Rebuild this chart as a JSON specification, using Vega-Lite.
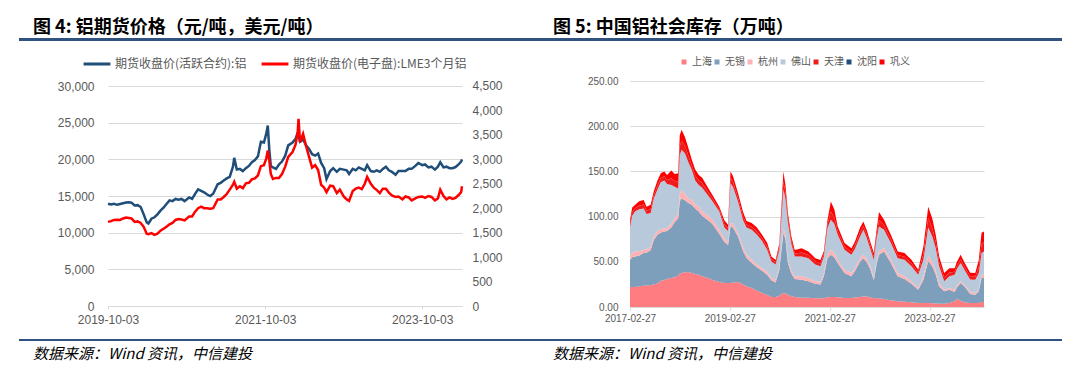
{
  "$schema": "https://vega.github.io/schema/vega-lite/v6.json",
  "background": "white",
  "padding": {"left": 19, "top": 19, "right": 5, "bottom": 5},
  "spacing": 8,
  "resolve": {"scale": {"color": "independent", "x": "independent", "y": "independent"}, "legend": {"color": "independent"}},
  "config": {
    "view": {"stroke": null},
    "axis": {"labelFont": "Liberation Sans", "labelColor": "#595959", "title": null, "gridColor": "#D9D9D9", "gridWidth": 1}
  },
  "datasets": {
    "price": [
      {"d": "2019-10-03", "a": 13950, "b": 1720}, {"d": "2019-10-17", "a": 13850, "b": 1735}, {"d": "2019-10-31", "a": 13950, "b": 1760},
      {"d": "2019-11-14", "a": 13800, "b": 1765}, {"d": "2019-11-28", "a": 13900, "b": 1760}, {"d": "2019-12-12", "a": 14000, "b": 1790},
      {"d": "2019-12-26", "a": 14100, "b": 1810}, {"d": "2020-01-09", "a": 14150, "b": 1800}, {"d": "2020-01-20", "a": 14100, "b": 1790},
      {"d": "2020-02-04", "a": 13700, "b": 1720}, {"d": "2020-02-18", "a": 13750, "b": 1730}, {"d": "2020-03-03", "a": 13500, "b": 1700},
      {"d": "2020-03-17", "a": 12500, "b": 1620}, {"d": "2020-03-31", "a": 11400, "b": 1480}, {"d": "2020-04-08", "a": 11250, "b": 1470},
      {"d": "2020-04-22", "a": 11900, "b": 1490}, {"d": "2020-05-06", "a": 12100, "b": 1455}, {"d": "2020-05-20", "a": 12500, "b": 1480},
      {"d": "2020-06-03", "a": 13000, "b": 1540}, {"d": "2020-06-17", "a": 13400, "b": 1580}, {"d": "2020-07-01", "a": 13900, "b": 1620},
      {"d": "2020-07-15", "a": 14400, "b": 1670}, {"d": "2020-07-29", "a": 14300, "b": 1700}, {"d": "2020-08-12", "a": 14600, "b": 1760},
      {"d": "2020-08-26", "a": 14500, "b": 1780}, {"d": "2020-09-09", "a": 14600, "b": 1770}, {"d": "2020-09-23", "a": 14300, "b": 1750},
      {"d": "2020-10-14", "a": 14800, "b": 1830}, {"d": "2020-10-28", "a": 14600, "b": 1830}, {"d": "2020-11-11", "a": 15300, "b": 1930},
      {"d": "2020-11-25", "a": 15900, "b": 2000}, {"d": "2020-12-09", "a": 15700, "b": 2030}, {"d": "2020-12-23", "a": 15500, "b": 2000},
      {"d": "2021-01-06", "a": 15200, "b": 2000}, {"d": "2021-01-20", "a": 15000, "b": 1990}, {"d": "2021-02-03", "a": 15300, "b": 2000},
      {"d": "2021-02-24", "a": 16600, "b": 2180}, {"d": "2021-03-10", "a": 16800, "b": 2180}, {"d": "2021-03-24", "a": 17100, "b": 2230},
      {"d": "2021-04-07", "a": 17400, "b": 2290}, {"d": "2021-04-21", "a": 17600, "b": 2380}, {"d": "2021-05-06", "a": 19000, "b": 2480},
      {"d": "2021-05-12", "a": 20200, "b": 2540}, {"d": "2021-05-24", "a": 18600, "b": 2400}, {"d": "2021-06-07", "a": 18700, "b": 2450},
      {"d": "2021-06-21", "a": 18400, "b": 2410}, {"d": "2021-07-05", "a": 18800, "b": 2510}, {"d": "2021-07-19", "a": 19100, "b": 2520},
      {"d": "2021-08-02", "a": 19600, "b": 2590}, {"d": "2021-08-16", "a": 19900, "b": 2610}, {"d": "2021-08-30", "a": 20400, "b": 2670},
      {"d": "2021-09-13", "a": 22400, "b": 2860}, {"d": "2021-09-27", "a": 22300, "b": 2880}, {"d": "2021-10-08", "a": 23500, "b": 3020},
      {"d": "2021-10-15", "a": 24600, "b": 3180}, {"d": "2021-10-22", "a": 21300, "b": 2980}, {"d": "2021-10-29", "a": 19100, "b": 2700},
      {"d": "2021-11-08", "a": 18900, "b": 2600}, {"d": "2021-11-22", "a": 18700, "b": 2620}, {"d": "2021-12-06", "a": 19300, "b": 2620},
      {"d": "2021-12-20", "a": 19700, "b": 2700}, {"d": "2022-01-04", "a": 20500, "b": 2850}, {"d": "2022-01-18", "a": 21900, "b": 3050},
      {"d": "2022-02-07", "a": 22300, "b": 3150}, {"d": "2022-02-21", "a": 22800, "b": 3300}, {"d": "2022-03-03", "a": 23600, "b": 3560},
      {"d": "2022-03-07", "a": 23200, "b": 3830}, {"d": "2022-03-14", "a": 22400, "b": 3350}, {"d": "2022-03-28", "a": 22700, "b": 3520},
      {"d": "2022-04-11", "a": 21900, "b": 3270}, {"d": "2022-04-25", "a": 21400, "b": 3050}, {"d": "2022-05-09", "a": 20700, "b": 2830},
      {"d": "2022-05-23", "a": 20500, "b": 2880}, {"d": "2022-06-06", "a": 20800, "b": 2780}, {"d": "2022-06-20", "a": 19500, "b": 2480},
      {"d": "2022-07-04", "a": 18800, "b": 2420}, {"d": "2022-07-15", "a": 17300, "b": 2330}, {"d": "2022-08-01", "a": 18400, "b": 2460},
      {"d": "2022-08-15", "a": 18800, "b": 2450}, {"d": "2022-09-01", "a": 18300, "b": 2310}, {"d": "2022-09-15", "a": 18700, "b": 2380},
      {"d": "2022-10-03", "a": 18600, "b": 2240}, {"d": "2022-10-17", "a": 18500, "b": 2180}, {"d": "2022-10-28", "a": 18000, "b": 2150},
      {"d": "2022-11-14", "a": 18700, "b": 2350}, {"d": "2022-11-28", "a": 18500, "b": 2400}, {"d": "2022-12-12", "a": 18900, "b": 2420},
      {"d": "2022-12-26", "a": 18700, "b": 2390}, {"d": "2023-01-09", "a": 18500, "b": 2500}, {"d": "2023-01-20", "a": 19200, "b": 2640},
      {"d": "2023-02-06", "a": 18400, "b": 2500}, {"d": "2023-02-20", "a": 18300, "b": 2420}, {"d": "2023-03-06", "a": 18500, "b": 2370},
      {"d": "2023-03-20", "a": 18300, "b": 2310}, {"d": "2023-04-03", "a": 18700, "b": 2400}, {"d": "2023-04-17", "a": 19000, "b": 2400},
      {"d": "2023-05-01", "a": 18500, "b": 2320}, {"d": "2023-05-15", "a": 18300, "b": 2260}, {"d": "2023-06-01", "a": 17900, "b": 2230},
      {"d": "2023-06-15", "a": 18400, "b": 2240}, {"d": "2023-07-03", "a": 18400, "b": 2180}, {"d": "2023-07-17", "a": 18400, "b": 2240},
      {"d": "2023-08-01", "a": 18700, "b": 2220}, {"d": "2023-08-15", "a": 18700, "b": 2160}, {"d": "2023-09-01", "a": 19100, "b": 2200},
      {"d": "2023-09-15", "a": 19500, "b": 2230}, {"d": "2023-10-03", "a": 19200, "b": 2240}, {"d": "2023-10-16", "a": 19300, "b": 2210},
      {"d": "2023-11-01", "a": 18900, "b": 2250}, {"d": "2023-11-15", "a": 19000, "b": 2230}, {"d": "2023-12-01", "a": 18600, "b": 2160},
      {"d": "2023-12-15", "a": 19000, "b": 2200}, {"d": "2023-12-26", "a": 19600, "b": 2380}, {"d": "2024-01-10", "a": 18900, "b": 2250},
      {"d": "2024-01-24", "a": 19000, "b": 2180}, {"d": "2024-02-07", "a": 18800, "b": 2220}, {"d": "2024-02-21", "a": 18800, "b": 2190},
      {"d": "2024-03-06", "a": 18950, "b": 2210}, {"d": "2024-03-20", "a": 19300, "b": 2270}, {"d": "2024-04-01", "a": 19700, "b": 2330},
      {"d": "2024-04-05", "a": 20000, "b": 2450}
    ],
    "stock": [
      {"d": "2017-02-27", "上海": 22, "无锡": 30, "杭州": 4, "佛山": 32, "天津": 3.6, "沈阳": 0.1, "巩义": 4.3},
      {"d": "2017-03-15", "上海": 22, "无锡": 33, "杭州": 5, "佛山": 41, "天津": 4.1, "沈阳": 0.1, "巩义": 4.8},
      {"d": "2017-04-06", "上海": 22, "无锡": 34, "杭州": 5.5, "佛山": 44.5, "天津": 3.2, "沈阳": 0.1, "巩义": 3.7},
      {"d": "2017-05-05", "上海": 23, "无锡": 34, "杭州": 5, "佛山": 46, "天津": 4.1, "沈阳": 0.1, "巩义": 4.8},
      {"d": "2017-06-07", "上海": 23.6, "无锡": 36, "杭州": 3.4, "佛山": 46, "天津": 4.3, "沈阳": 0.1, "巩义": 5.1},
      {"d": "2017-06-28", "上海": 24, "无锡": 36, "杭州": 4, "佛山": 39, "天津": 3.6, "沈阳": 0.1, "巩义": 4.3},
      {"d": "2017-07-28", "上海": 24, "无锡": 39, "杭州": 4, "佛山": 37, "天津": 4.1, "沈阳": 0.1, "巩义": 4.8},
      {"d": "2017-08-20", "上海": 25, "无锡": 49, "杭州": 4, "佛山": 42, "天津": 3.6, "沈阳": 0.1, "巩义": 4.3},
      {"d": "2017-09-16", "上海": 26, "无锡": 54, "杭州": 4, "佛山": 46, "天津": 4.5, "沈阳": 0.1, "巩义": 5.4},
      {"d": "2017-10-10", "上海": 29, "无锡": 53.5, "杭州": 3.5, "佛山": 52, "天津": 4.5, "沈阳": 0.1, "巩义": 5.4},
      {"d": "2017-11-05", "上海": 30, "无锡": 53.6, "杭州": 3.4, "佛山": 53, "天津": 4.5, "沈阳": 0.1, "巩义": 5.4},
      {"d": "2017-11-25", "上海": 31, "无锡": 53, "杭州": 3, "佛山": 49, "天津": 4.5, "沈阳": 0.1, "巩义": 5.4},
      {"d": "2017-12-26", "上海": 32, "无锡": 56, "杭州": 4, "佛山": 43, "天津": 7.2, "沈阳": 0.1, "巩义": 8.7},
      {"d": "2018-01-20", "上海": 33, "无锡": 61, "杭州": 4, "佛山": 35, "天津": 6.3, "沈阳": 0.1, "巩义": 7.6},
      {"d": "2018-02-14", "上海": 34.6, "无锡": 63.4, "杭州": 6, "佛山": 27, "天津": 7.7, "沈阳": 0.1, "巩义": 9.2},
      {"d": "2018-02-26", "上海": 37, "无锡": 80, "杭州": 8, "佛山": 43, "天津": 9.9, "沈阳": 0.1, "巩义": 12},
      {"d": "2018-03-11", "上海": 37.5, "无锡": 82.5, "杭州": 9.6, "佛山": 44.4, "天津": 9.9, "沈阳": 0.1, "巩义": 12},
      {"d": "2018-04-05", "上海": 38.5, "无锡": 79.5, "杭州": 7, "佛山": 45, "天津": 8.1, "沈阳": 0.1, "巩义": 9.8},
      {"d": "2018-04-30", "上海": 38.7, "无锡": 76.3, "杭州": 5, "佛山": 40, "天津": 7.2, "沈阳": 0.1, "巩义": 8.7},
      {"d": "2018-05-25", "上海": 37.5, "无锡": 75.5, "杭州": 5.6, "佛山": 33.1, "天津": 5.1, "沈阳": 0.1, "巩义": 6.1},
      {"d": "2018-06-19", "上海": 36.5, "无锡": 72.5, "杭州": 5, "佛山": 26, "天津": 5.4, "沈阳": 0.1, "巩义": 6.5},
      {"d": "2018-07-15", "上海": 35.7, "无锡": 70, "杭州": 5.3, "佛山": 24, "天津": 5, "沈阳": 0.1, "巩义": 5.9},
      {"d": "2018-08-09", "上海": 34, "无锡": 67, "杭州": 5, "佛山": 26, "天津": 5, "沈阳": 0.1, "巩义": 5.9},
      {"d": "2018-09-28", "上海": 31.5, "无锡": 63.5, "杭州": 5, "佛山": 22, "天津": 3.6, "沈阳": 0.1, "巩义": 4.3},
      {"d": "2018-10-23", "上海": 30, "无锡": 61.7, "杭州": 4.8, "佛山": 20.5, "天津": 3.2, "沈阳": 0.1, "巩义": 3.7},
      {"d": "2018-12-12", "上海": 27.6, "无锡": 53.4, "杭州": 4.4, "佛山": 20.3, "天津": 2.4, "沈阳": 0.1, "巩义": 2.8},
      {"d": "2019-01-18", "上海": 26.5, "无锡": 45.5, "杭州": 4, "佛山": 12, "天津": 3.6, "沈阳": 0.1, "巩义": 4.3},
      {"d": "2019-02-14", "上海": 26.5, "无锡": 42, "杭州": 3.5, "佛山": 12, "天津": 3.2, "沈阳": 0.1, "巩义": 3.7},
      {"d": "2019-03-04", "上海": 26.5, "无锡": 62.5, "杭州": 4, "佛山": 44, "天津": 5.9, "沈阳": 0.1, "巩义": 7},
      {"d": "2019-03-22", "上海": 27, "无锡": 61, "杭州": 4, "佛山": 41, "天津": 5.4, "沈阳": 0.1, "巩义": 6.5},
      {"d": "2019-04-28", "上海": 27.6, "无锡": 50.4, "杭州": 3.7, "佛山": 35, "天津": 4.2, "沈阳": 0.1, "巩义": 5},
      {"d": "2019-06-04", "上海": 25, "无锡": 37, "杭州": 4, "佛山": 30, "天津": 4.1, "沈阳": 0.1, "巩义": 4.8},
      {"d": "2019-06-29", "上海": 23, "无锡": 31.5, "杭州": 3.5, "佛山": 30, "天津": 3.2, "沈阳": 0.1, "巩义": 3.7},
      {"d": "2019-08-06", "上海": 21, "无锡": 27.6, "杭州": 3.7, "佛山": 33.1, "天津": 3.4, "沈阳": 0.1, "巩义": 4.1},
      {"d": "2019-09-13", "上海": 18, "无锡": 26, "杭州": 3, "佛山": 33, "天津": 3.6, "沈阳": 0.1, "巩义": 4.3},
      {"d": "2019-10-21", "上海": 15.5, "无锡": 24.5, "杭州": 3, "佛山": 30, "天津": 3.2, "沈阳": 0.1, "巩义": 3.7},
      {"d": "2019-11-27", "上海": 13.3, "无锡": 22.4, "杭州": 3.7, "佛山": 23.9, "天津": 3.5, "沈阳": 0.1, "巩义": 4.1},
      {"d": "2019-12-28", "上海": 11, "无锡": 18.5, "杭州": 2.5, "佛山": 18.4, "天津": 2.5, "沈阳": 0.1, "巩义": 3},
      {"d": "2020-01-28", "上海": 11, "无锡": 16.2, "杭州": 2.8, "佛山": 17, "天津": 2.3, "沈阳": 0.1, "巩义": 2.6},
      {"d": "2020-02-24", "上海": 12.5, "无锡": 28.5, "杭州": 3, "佛山": 19, "天津": 3.2, "沈阳": 0.1, "巩义": 3.7},
      {"d": "2020-03-25", "上海": 15.5, "无锡": 66.5, "杭州": 5, "佛山": 43, "天津": 9, "沈阳": 0.1, "巩义": 10.9},
      {"d": "2020-04-09", "上海": 15, "无锡": 60, "杭州": 5, "佛山": 40, "天津": 6.8, "沈阳": 0.1, "巩义": 8.1},
      {"d": "2020-04-27", "上海": 13.6, "无锡": 35, "杭州": 3.7, "佛山": 40.7, "天津": 5, "沈阳": 0.1, "巩义": 5.9},
      {"d": "2020-05-22", "上海": 12, "无锡": 25, "杭州": 3, "佛山": 30, "天津": 3.6, "沈阳": 0.1, "巩义": 4.3},
      {"d": "2020-06-16", "上海": 11, "无锡": 20, "杭州": 3, "佛山": 22, "天津": 3.2, "沈阳": 0.1, "巩义": 3.7},
      {"d": "2020-08-05", "上海": 10.3, "无锡": 19.9, "杭州": 3.8, "佛山": 22, "天津": 4.1, "沈阳": 0.1, "巩义": 4.8},
      {"d": "2020-09-24", "上海": 10.3, "无锡": 18.1, "杭州": 3.6, "佛山": 22, "天津": 3.4, "沈阳": 0.1, "巩义": 4},
      {"d": "2020-11-13", "上海": 9.6, "无锡": 16.2, "杭州": 2.6, "佛山": 18.6, "天津": 3.2, "沈阳": 0.1, "巩义": 3.7},
      {"d": "2020-12-21", "上海": 9.6, "无锡": 15.4, "杭州": 3, "佛山": 17, "天津": 3.2, "沈阳": 0.1, "巩义": 3.7},
      {"d": "2021-01-15", "上海": 9.8, "无锡": 24.1, "杭州": 3.7, "佛山": 18.4, "天津": 2.7, "沈阳": 0.1, "巩义": 3.2},
      {"d": "2021-02-10", "上海": 10.7, "无锡": 43.3, "杭州": 3.8, "佛山": 29.5, "天津": 3.9, "沈阳": 0.1, "巩义": 4.7},
      {"d": "2021-03-07", "上海": 11, "无锡": 46.8, "杭州": 5.5, "佛山": 33.2, "天津": 9.1, "沈阳": 0.1, "巩义": 11},
      {"d": "2021-04-01", "上海": 11, "无锡": 44, "杭州": 5, "佛山": 32, "天津": 7.2, "沈阳": 0.1, "巩义": 8.7},
      {"d": "2021-04-26", "上海": 10.7, "无锡": 37.9, "杭州": 3.7, "佛山": 27.7, "天津": 4.1, "沈阳": 0.1, "巩义": 4.8},
      {"d": "2021-06-15", "上海": 10, "无锡": 27.6, "杭州": 3.6, "佛山": 22.1, "天津": 3.3, "沈阳": 0.1, "巩义": 4},
      {"d": "2021-08-04", "上海": 10, "无锡": 23.9, "杭州": 3.7, "佛山": 20.2, "天津": 3.2, "沈阳": 0.1, "巩义": 3.9},
      {"d": "2021-08-29", "上海": 10.5, "无锡": 29, "杭州": 3.5, "佛山": 21, "天津": 3.6, "沈阳": 0.1, "巩义": 4.3},
      {"d": "2021-10-07", "上海": 11, "无锡": 39.4, "杭州": 3.6, "佛山": 24, "天津": 4.5, "沈阳": 0.1, "巩义": 5.4},
      {"d": "2021-10-31", "上海": 11.8, "无锡": 42.2, "杭州": 3.8, "佛山": 27.6, "天津": 4.1, "沈阳": 0.1, "巩义": 5},
      {"d": "2021-11-25", "上海": 11.5, "无锡": 38, "杭州": 3.5, "佛山": 23, "天津": 4.1, "沈阳": 0.1, "巩义": 4.8},
      {"d": "2021-12-21", "上海": 10.5, "无锡": 31, "杭州": 3.5, "佛山": 19, "天津": 3.6, "沈阳": 0.1, "巩义": 4.3},
      {"d": "2022-01-15", "上海": 10, "无锡": 19.5, "杭州": 2.5, "佛山": 20.3, "天津": 3.5, "沈阳": 0.1, "巩义": 4.1},
      {"d": "2022-02-04", "上海": 9.8, "无锡": 37.2, "杭州": 3, "佛山": 25, "天津": 4.5, "沈阳": 0.1, "巩义": 5.4},
      {"d": "2022-02-22", "上海": 9.6, "无锡": 48.2, "杭州": 3.7, "佛山": 27.5, "天津": 7.2, "沈阳": 0.1, "巩义": 8.7},
      {"d": "2022-03-31", "上海": 8.8, "无锡": 52.7, "杭州": 3.7, "佛山": 20.2, "天津": 5, "沈阳": 0.1, "巩义": 6},
      {"d": "2022-04-25", "上海": 8, "无锡": 47, "杭州": 3, "佛山": 20, "天津": 4.5, "沈阳": 0.1, "巩义": 5.4},
      {"d": "2022-05-20", "上海": 7.4, "无锡": 41.2, "杭州": 3.7, "佛山": 18.4, "天津": 4.2, "沈阳": 0.1, "巩义": 5},
      {"d": "2022-07-09", "上海": 6.3, "无锡": 27.6, "杭州": 3.7, "佛山": 16.4, "天津": 3.4, "沈阳": 0.1, "巩义": 4},
      {"d": "2022-08-28", "上海": 5.9, "无锡": 25.1, "杭州": 2.9, "佛山": 18.4, "天津": 3.3, "沈阳": 0.1, "巩义": 3.9},
      {"d": "2022-10-17", "上海": 5.2, "无锡": 20.6, "杭州": 2.6, "佛山": 16.6, "天津": 3.3, "沈阳": 0.1, "巩义": 3.9},
      {"d": "2022-12-06", "上海": 4.4, "无锡": 14.7, "杭州": 1.9, "佛山": 14.7, "天津": 2.5, "沈阳": 0.1, "巩义": 2.9},
      {"d": "2023-01-13", "上海": 4.4, "无锡": 25.8, "杭州": 3.7, "佛山": 18.4, "天津": 6.6, "沈阳": 0.1, "巩义": 8},
      {"d": "2023-02-17", "上海": 4.4, "无锡": 46.6, "杭州": 6, "佛山": 31, "天津": 10.4, "沈阳": 0.1, "巩义": 12.5},
      {"d": "2023-03-19", "上海": 4.2, "无锡": 40.8, "杭州": 5, "佛山": 28, "天津": 9, "沈阳": 0.1, "巩义": 10.9},
      {"d": "2023-04-13", "上海": 4, "无锡": 32, "杭州": 4, "佛山": 25, "天津": 6.8, "沈阳": 0.1, "巩义": 8.1},
      {"d": "2023-05-08", "上海": 3.7, "无锡": 19.1, "杭州": 3.7, "佛山": 18.5, "天津": 5, "沈阳": 0.1, "巩义": 5.9},
      {"d": "2023-06-14", "上海": 3.7, "无锡": 13.6, "杭州": 1.8, "佛山": 9.3, "天津": 4.1, "沈阳": 0.1, "巩义": 5},
      {"d": "2023-07-22", "上海": 4.4, "无锡": 14.7, "杭州": 1.9, "佛山": 12.9, "天津": 4.1, "沈阳": 0.1, "巩义": 4.9},
      {"d": "2023-08-29", "上海": 6.3, "无锡": 10.3, "杭州": 2.5, "佛山": 16.6, "天津": 3.3, "沈阳": 0.1, "巩义": 3.9},
      {"d": "2023-09-15", "上海": 9, "无锡": 12.5, "杭州": 2.5, "佛山": 18, "天津": 3.6, "沈阳": 0.1, "巩义": 4.3},
      {"d": "2023-10-12", "上海": 7, "无锡": 19.5, "杭州": 1.9, "佛山": 20.2, "天津": 4.1, "沈阳": 0.1, "巩义": 5},
      {"d": "2023-11-13", "上海": 5, "无锡": 17, "杭州": 2, "佛山": 16, "天津": 3.6, "沈阳": 0.1, "巩义": 4.3},
      {"d": "2023-12-21", "上海": 4.4, "无锡": 10.1, "杭州": 2, "佛山": 14, "天津": 3.4, "沈阳": 0.1, "巩义": 4},
      {"d": "2024-01-27", "上海": 4.4, "无锡": 9.2, "杭州": 1.9, "佛山": 14.7, "天津": 3.3, "沈阳": 0.1, "巩义": 4},
      {"d": "2024-02-22", "上海": 4.4, "无锡": 12.9, "杭州": 1.8, "佛山": 18.5, "天津": 6.5, "沈阳": 0.1, "巩义": 7.8},
      {"d": "2024-03-13", "上海": 5.5, "无锡": 26.5, "杭州": 3.7, "佛山": 23.9, "天津": 10.1, "沈阳": 0.1, "巩义": 12.2},
      {"d": "2024-03-31", "上海": 5.5, "无锡": 26.5, "杭州": 3.7, "佛山": 25.8, "天津": 9.9, "沈阳": 0.1, "巩义": 12.1}
    ],
    "ord": [
      {"城市": "上海", "序": 1}, {"城市": "无锡", "序": 2}, {"城市": "杭州", "序": 3}, {"城市": "佛山", "序": 4},
      {"城市": "天津", "序": 5}, {"城市": "沈阳", "序": 6}, {"城市": "巩义", "序": 7}
    ]
  },
  "vconcat": [
    {
      "bounds": "flush",
      "spacing": 0,
      "hconcat": [
        {
          "width": 521, "height": 3,
          "view": {"fill": "#2F5280", "stroke": null},
          "data": {"values": []},
          "mark": "point",
          "encoding": {},
          "title": {"text": "图 4: 铝期货价格（元/吨，美元/吨）", "anchor": "start", "frame": "group", "dx": 14, "offset": 1, "font": "Noto Sans CJK SC", "fontSize": 18, "fontWeight": "bold", "color": "#000000"}
        },
        {
          "width": 522, "height": 3,
          "view": {"fill": "#2F5280", "stroke": null},
          "data": {"values": []},
          "mark": "point",
          "encoding": {},
          "title": {"text": "图 5: 中国铝社会库存（万吨）", "anchor": "start", "frame": "group", "dx": 13, "offset": 1, "font": "Noto Sans CJK SC", "fontSize": 18, "fontWeight": "bold", "color": "#000000"}
        }
      ]
    },
    {
      "bounds": "flush",
      "spacing": 0,
      "resolve": {"scale": {"color": "independent", "x": "independent", "y": "independent"}, "legend": {"color": "independent"}},
      "hconcat": [
        {"width": 89, "height": 250, "data": {"values": []}, "mark": "point", "encoding": {}},
        {
          "width": 354, "height": 225,
          "data": {"name": "price"},
          "encoding": {
            "x": {
              "field": "d", "type": "temporal", "scale": {"type": "utc"},
              "axis": {
                "values": [{"year": 2019, "month": 10, "date": 3, "utc": true}, {"year": 2021, "month": 10, "date": 3, "utc": true}, {"year": 2023, "month": 10, "date": 3, "utc": true}],
                "format": "%Y-%m-%d", "labelFontSize": 12, "labelPadding": 5, "labelFlush": false, "labelOverlap": false,
                "grid": false, "domain": true, "domainColor": "#D9D9D9", "ticks": true, "tickColor": "#D9D9D9", "tickSize": 3
              }
            }
          },
          "layer": [
            {
              "mark": {"type": "line", "strokeWidth": 2.5},
              "encoding": {
                "y": {
                  "field": "a", "type": "quantitative", "scale": {"domain": [0, 30682], "nice": false},
                  "axis": {"values": [0, 5000, 10000, 15000, 20000, 25000, 30000], "format": ",.0f", "labelFontSize": 12, "labelPadding": 14, "grid": true, "domain": false, "ticks": false}
                },
                "color": {
                  "datum": "期货收盘价(活跃合约):铝", "type": "nominal",
                  "scale": {"domain": ["期货收盘价(活跃合约):铝", "期货收盘价(电子盘):LME3个月铝"], "range": ["#1F4E79", "#FF0000"]},
                  "legend": {"orient": "none", "legendX": -26, "legendY": -32, "direction": "horizontal", "title": null, "symbolType": "stroke", "symbolSize": 720, "symbolStrokeWidth": 3, "labelFont": "Noto Sans CJK SC", "labelFontSize": 12, "labelColor": "#595959", "labelOffset": 3, "labelLimit": 400, "columnPadding": 8}
                }
              }
            },
            {
              "mark": {"type": "line", "strokeWidth": 2.5},
              "encoding": {
                "y": {
                  "field": "b", "type": "quantitative", "scale": {"domain": [0, 4602], "nice": false},
                  "axis": {"orient": "right", "values": [0, 500, 1000, 1500, 2000, 2500, 3000, 3500, 4000, 4500], "format": ",.0f", "labelFontSize": 12, "labelPadding": 10, "grid": false, "domain": false, "ticks": false}
                },
                "color": {"datum": "期货收盘价(电子盘):LME3个月铝", "type": "nominal"}
              }
            }
          ],
          "resolve": {"scale": {"y": "independent"}}
        },
        {"width": 168, "height": 250, "data": {"values": []}, "mark": "point", "encoding": {}},
        {
          "width": 354, "height": 226,
          "data": {"name": "stock"},
          "transform": [
            {"fold": ["上海", "无锡", "杭州", "佛山", "天津", "沈阳", "巩义"], "as": ["城市", "库存"]},
            {"lookup": "城市", "from": {"data": {"name": "ord"}, "key": "城市", "fields": ["序"]}}
          ],
          "mark": {"type": "area", "opacity": 1, "interpolate": "linear"},
          "encoding": {
            "x": {
              "field": "d", "type": "temporal", "scale": {"type": "utc"},
              "axis": {
                "values": [{"year": 2017, "month": 2, "date": 27, "utc": true}, {"year": 2019, "month": 2, "date": 27, "utc": true}, {"year": 2021, "month": 2, "date": 27, "utc": true}, {"year": 2023, "month": 2, "date": 27, "utc": true}],
                "format": "%Y-%m-%d", "labelFontSize": 10, "labelPadding": 3, "labelFlush": false, "labelOverlap": false,
                "grid": false, "domain": true, "domainColor": "#D9D9D9", "ticks": true, "tickColor": "#D9D9D9", "tickSize": 3
              }
            },
            "y": {
              "field": "库存", "type": "quantitative", "stack": "zero", "scale": {"domain": [0, 250], "nice": false},
              "axis": {"values": [0, 50, 100, 150, 200, 250], "format": ".2f", "labelFontSize": 10, "labelPadding": 12, "grid": true, "domain": false, "ticks": false}
            },
            "color": {
              "field": "城市", "type": "nominal",
              "scale": {"domain": ["上海", "无锡", "杭州", "佛山", "天津", "沈阳", "巩义"], "range": ["#FF7C80", "#7E9FBB", "#FFB3B5", "#B7C9DB", "#F01C1C", "#1F4E79", "#FF0000"]},
              "legend": {"orient": "none", "legendX": 49, "legendY": -24, "direction": "horizontal", "title": null, "symbolType": "square", "symbolSize": 25, "symbolStrokeWidth": 0, "labelFont": "Noto Sans CJK SC", "labelFontSize": 10, "labelColor": "#595959", "labelOffset": 3, "columnPadding": -3}
            },
            "order": {"field": "序", "type": "quantitative"}
          }
        }
      ]
    },
    {
      "bounds": "flush",
      "spacing": 0,
      "hconcat": [
        {
          "width": 521, "height": 2,
          "view": {"fill": "#2F5280", "stroke": null},
          "data": {"values": []},
          "mark": "point",
          "encoding": {},
          "title": {"text": "数据来源：Wind 资讯，中信建投", "orient": "bottom", "anchor": "start", "frame": "group", "dx": 14, "offset": 6, "font": "Noto Sans CJK SC", "fontSize": 15, "fontStyle": "italic", "fontWeight": "normal", "color": "#000000"}
        },
        {
          "width": 522, "height": 2,
          "view": {"fill": "#2F5280", "stroke": null},
          "data": {"values": []},
          "mark": "point",
          "encoding": {},
          "title": {"text": "数据来源：Wind 资讯，中信建投", "orient": "bottom", "anchor": "start", "frame": "group", "dx": 13, "offset": 6, "font": "Noto Sans CJK SC", "fontSize": 15, "fontStyle": "italic", "fontWeight": "normal", "color": "#000000"}
        }
      ]
    }
  ]
}
